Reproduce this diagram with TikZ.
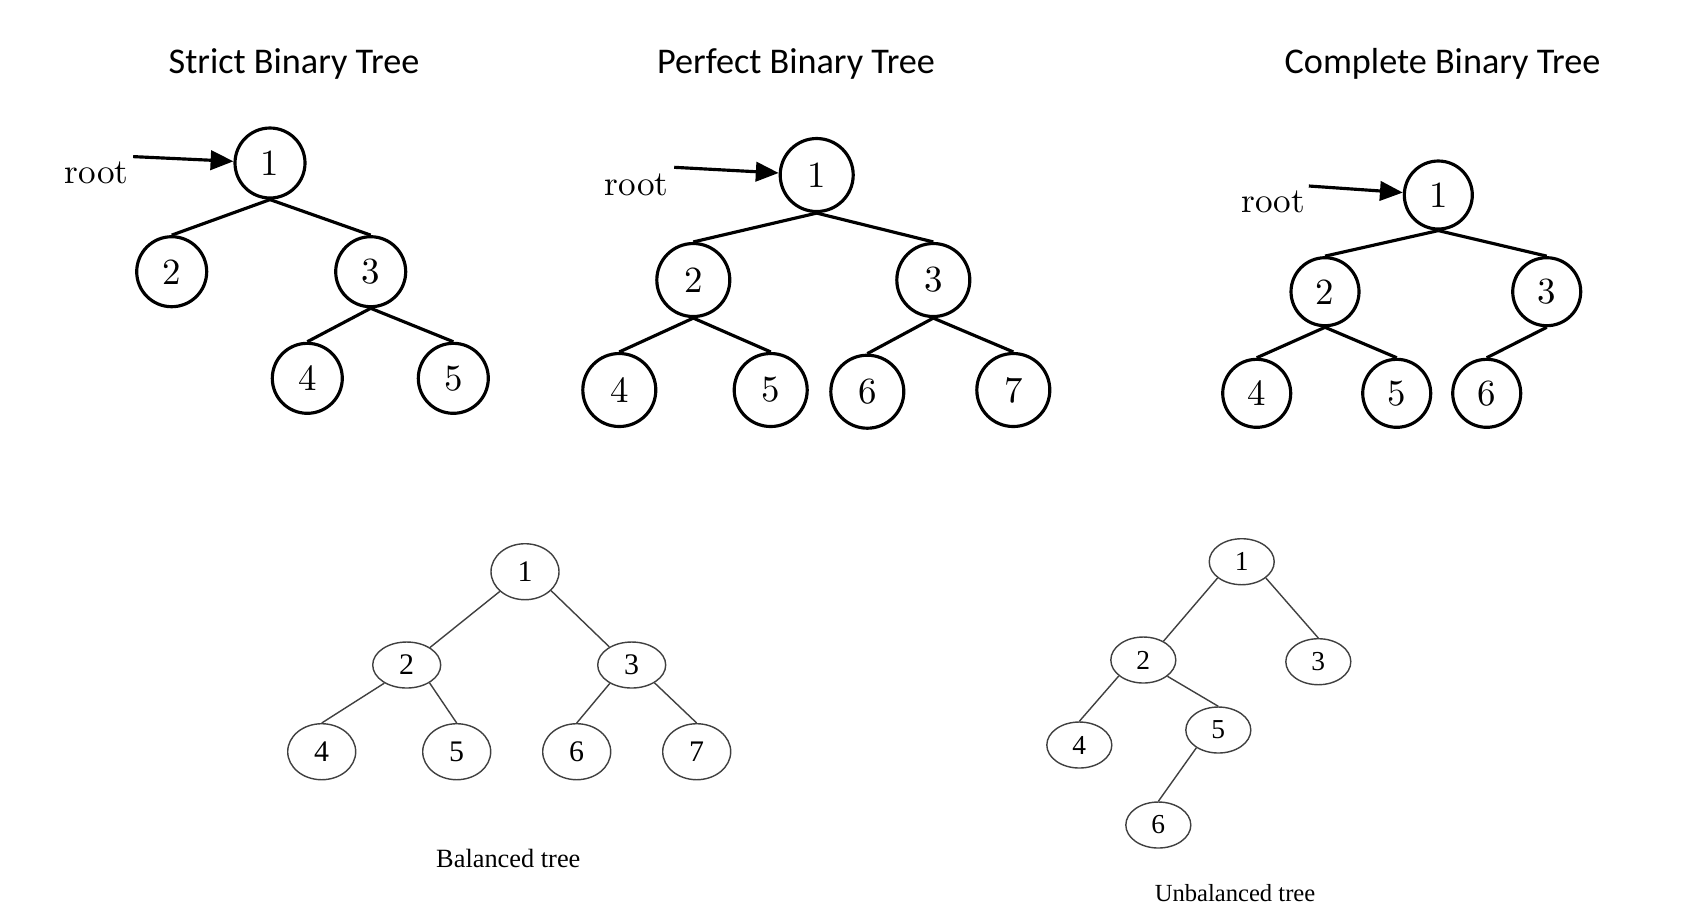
\documentclass[tikz,border=0pt]{standalone}
\usepackage{fontspec}
\usepackage{tikz}
\usetikzlibrary{arrows.meta,shapes.geometric}
\newfontfamily\titlefont{Carlito}
\newfontfamily\timesfont{Liberation Serif}

\begin{document}
\begin{tikzpicture}[
title/.style={font=\titlefont\fontsize{10.3}{12}\selectfont, anchor=base},
ring/.style={circle, draw, line width=0.9pt, minimum size=7mm, inner sep=0pt, font=\fontsize{10.5}{12}\selectfont},
edge/.style={line width=0.9pt},
pointer/.style={-{Triangle[length=6.5pt,width=5.5pt]}, line width=0.9pt},
rootlabel/.style={inner sep=0pt},
oval/.style={ellipse, draw=black!75, line width=0.4pt, minimum width=6.8mm, minimum height=5.6mm, inner sep=0pt, font=\timesfont\fontsize{8.5}{10}\selectfont},
link/.style={draw=black!75, line width=0.4pt},
caption/.style={font=\timesfont\fontsize{7.5}{9}\selectfont}
]
\useasboundingbox (0,0) rectangle (17.07,-9.17);

% Titles
\node[title] (strictT) at (2.94,-0.733) {Strict Binary Tree};
\node[title] (perfectT) at (7.96,-0.733) {Perfect Binary Tree};
\node[title] (completeT) at (14.425,-0.733) {Complete Binary Tree};

% Strict binary tree
\node[ring] (s1) at (2.70,-1.63) {1};
\node[ring] (s2) at (1.717,-2.717) {2};
\node[ring] (s3) at (3.707,-2.717) {3};
\node[ring] (s4) at (3.073,-3.783) {4};
\node[ring] (s5) at (4.533,-3.783) {5};
\node[rootlabel] (sroot) at (0.967,-1.733) {root};

\draw[pointer] ([shift={(0.04,0.05)}]sroot.north east) -- (s1);
\draw[edge] (s1.south) -- (s2.north);
\draw[edge] (s1.south) -- (s3.north);
\draw[edge] (s3.south) -- (s4.north);
\draw[edge] (s3.south) -- (s5.north);

% Perfect binary tree
\node[ring, minimum size=7.3mm] (p1) at (8.167,-1.75) {1};
\node[ring, minimum size=7.3mm] (p2) at (6.933,-2.80) {2};
\node[ring, minimum size=7.3mm] (p3) at (9.333,-2.80) {3};
\node[ring, minimum size=7.3mm] (p4) at (6.193,-3.90) {4};
\node[ring, minimum size=7.3mm] (p5) at (7.707,-3.90) {5};
\node[ring, minimum size=7.3mm] (p6) at (8.673,-3.917) {6};
\node[ring, minimum size=7.3mm] (p7) at (10.133,-3.90) {7};
\node[rootlabel] (proot) at (6.367,-1.85) {root};

\draw[pointer] ([shift={(0.05,0.06)}]proot.north east) -- (p1);
\draw[edge] (p1.south) -- (p2.north);
\draw[edge] (p1.south) -- (p3.north);
\draw[edge] (p2.south) -- (p4.north);
\draw[edge] (p2.south) -- (p5.north);
\draw[edge] (p3.south) -- (p6.north);
\draw[edge] (p3.south) -- (p7.north);

% Complete binary tree
\node[ring, minimum size=6.8mm] (c1) at (14.383,-1.95) {1};
\node[ring, minimum size=6.8mm] (c2) at (13.25,-2.917) {2};
\node[ring, minimum size=6.8mm] (c3) at (15.467,-2.917) {3};
\node[ring, minimum size=6.8mm] (c4) at (12.567,-3.933) {4};
\node[ring, minimum size=6.8mm] (c5) at (13.967,-3.933) {5};
\node[ring, minimum size=6.8mm] (c6) at (14.867,-3.933) {6};
\node[rootlabel] (croot) at (12.733,-2.017) {root};

\draw[pointer] ([shift={(0.03,0.04)}]croot.north east) -- (c1);
\draw[edge] (c1.south) -- (c2.north);
\draw[edge] (c1.south) -- (c3.north);
\draw[edge] (c2.south) -- (c4.north);
\draw[edge] (c2.south) -- (c5.north);
\draw[edge] (c3.south) -- (c6.north);

% Balanced tree
\node[oval] (b1) at (5.25,-5.717) {1};
\node[oval, minimum height=4.6mm] (b2) at (4.067,-6.65) {2};
\node[oval, minimum height=4.6mm] (b3) at (6.317,-6.65) {3};
\node[oval] (b4) at (3.217,-7.517) {4};
\node[oval] (b5) at (4.567,-7.517) {5};
\node[oval] (b6) at (5.767,-7.517) {6};
\node[oval] (b7) at (6.967,-7.517) {7};
\node[caption] (bcap) at (5.083,-8.583) {Balanced tree};

\draw[link] (b1.218) -- (b2.37);
\draw[link] (b1.-36) -- (b3.141);
\draw[link] (b2.219) -- (b4.north);
\draw[link] (b2.-38) -- (b5.north);
\draw[link] (b3.220) -- (b6.north);
\draw[link] (b3.-38) -- (b7.north);

% Unbalanced tree
\node[oval, minimum width=6.5mm, minimum height=4.6mm, font=\timesfont\fontsize{7.8}{9}\selectfont] (u1) at (12.417,-5.617) {1};
\node[oval, minimum width=6.5mm, minimum height=4.6mm, font=\timesfont\fontsize{7.8}{9}\selectfont] (u2) at (11.433,-6.60) {2};
\node[oval, minimum width=6.5mm, minimum height=4.6mm, font=\timesfont\fontsize{7.8}{9}\selectfont] (u3) at (13.183,-6.617) {3};
\node[oval, minimum width=6.5mm, minimum height=4.6mm, font=\timesfont\fontsize{7.8}{9}\selectfont] (u4) at (10.793,-7.45) {4};
\node[oval, minimum width=6.5mm, minimum height=4.6mm, font=\timesfont\fontsize{7.8}{9}\selectfont] (u5) at (12.183,-7.30) {5};
\node[oval, minimum width=6.5mm, minimum height=4.6mm, font=\timesfont\fontsize{7.8}{9}\selectfont] (u6) at (11.583,-8.25) {6};
\node[caption, font=\timesfont\fontsize{7}{9}\selectfont] (ucap) at (12.35,-8.933) {Unbalanced tree};

\draw[link] (u1.214) -- (u2.43);
\draw[link] (u1.-34) -- (u3.north);
\draw[link] (u2.213) -- (u4.north);
\draw[link] (u2.-34) -- (u5.north);
\draw[link] (u5.219) -- (u6.north);

\end{tikzpicture}
\end{document}
